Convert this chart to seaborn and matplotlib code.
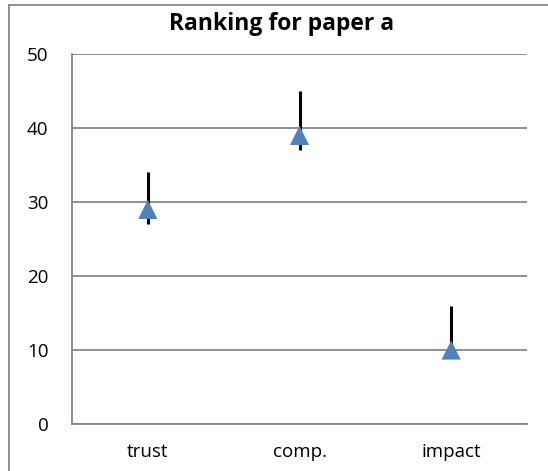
import matplotlib
matplotlib.use("Agg")
import matplotlib.pyplot as plt
import seaborn as sns
import pandas as pd
from matplotlib.lines import Line2D

categories = ["trust", "comp.", "impact"]
mid_values = [29, 39, 10]
high_values = [34, 45, 16]
low_values = [27, 37, 10]

df = pd.DataFrame({"category": categories, "mid": mid_values,
                   "high": high_values, "low": low_values})

sns.set_style("white")
plt.rcParams["font.family"] = ["Open Sans", "DejaVu Sans"]

W, H = 548, 471
fig = plt.figure(figsize=(W / 100, H / 100), dpi=100)
ax = fig.add_axes([72 / W, 1 - 424 / H, (527 - 72) / W, (424 - 54) / H])

grid_col = "#868686"

# high-low lines first, then the triangle markers on top
ax.vlines(df["category"], df["low"], df["high"], color="black", linewidth=2.2, zorder=3)
sns.scatterplot(data=df, x="category", y="mid", marker="^", s=190,
                color="#4F81BD", edgecolor="none", ax=ax, zorder=4)

ax.set_xlim(-0.5, 2.5)
ax.set_ylim(0, 50)
ax.set_yticks(range(0, 51, 10))
ax.yaxis.grid(True, color=grid_col, linewidth=1.3)
ax.set_axisbelow(True)
ax.set_xlabel("")
ax.set_ylabel("")

for side in ["top", "right"]:
    ax.spines[side].set_visible(False)
for side in ["left", "bottom"]:
    ax.spines[side].set_color(grid_col)
    ax.spines[side].set_linewidth(1.3)

ax.tick_params(axis="both", length=0, labelsize=13.5, labelcolor="black")
ax.tick_params(axis="y", pad=17)
ax.tick_params(axis="x", pad=14)

fig.text(282 / W, 1 - 30 / H, "Ranking for paper a", ha="center", va="baseline",
         fontsize=16.5, fontweight="bold", color="black")

# chart frame (only left and top edges fall inside the picture)
fig.add_artist(Line2D([9 / W, 9 / W], [1 - 5 / H, 0], transform=fig.transFigure,
                      color=grid_col, linewidth=1.3))
fig.add_artist(Line2D([9 / W, 1], [1 - 5 / H, 1 - 5 / H], transform=fig.transFigure,
                      color=grid_col, linewidth=1.3))

fig.savefig("out.png", dpi=100)
